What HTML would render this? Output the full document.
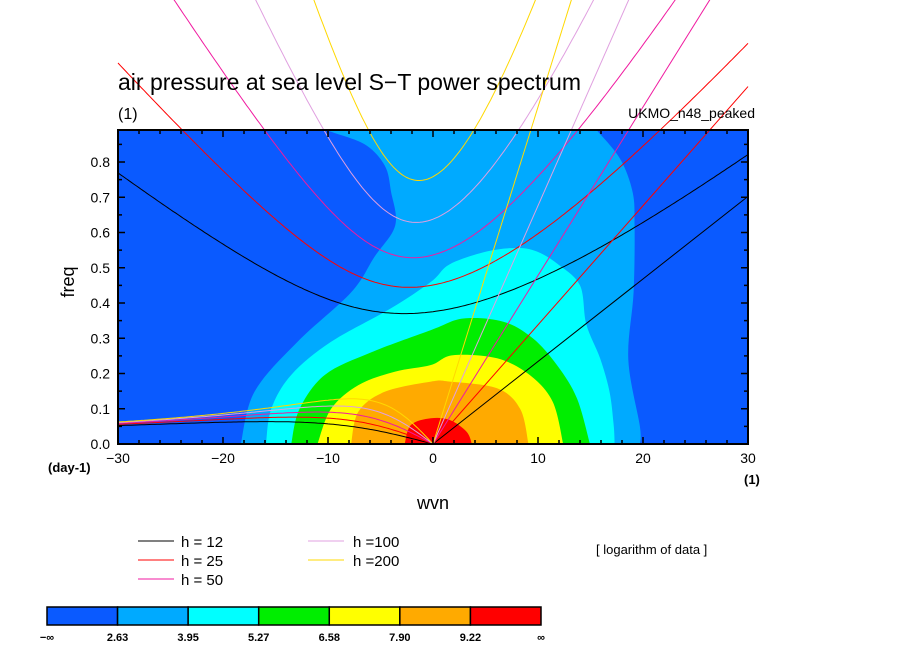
<!DOCTYPE html>
<html><head><meta charset="utf-8"><style>
body{margin:0;background:#fff;}
svg{display:block;font-family:"Liberation Sans",sans-serif;}
</style></head><body>
<svg id="chart" width="904" height="654" viewBox="0 0 904 654">
<defs><clipPath id="plotclip"><rect x="118" y="130" width="630" height="314"/></clipPath></defs>
<g id="fills" clip-path="url(#plotclip)"></g>
<g id="curves"></g>
<g id="axes"></g>
<text x="118" y="90" font-size="23">air pressure at sea level S−T power spectrum</text>
<text x="118" y="119" font-size="16">(1)</text>
<text x="755" y="118" font-size="14" text-anchor="end">UKMO_n48_peaked</text>
<text x="0" y="0" font-size="18" transform="translate(74,282) rotate(-90)" text-anchor="middle">freq</text>
<text x="433" y="509" font-size="18" text-anchor="middle">wvn</text>
<text x="48" y="472" font-size="13" font-weight="bold">(day-1)</text>
<text x="744" y="484" font-size="13" font-weight="bold">(1)</text>
<text x="596" y="554" font-size="13">[ logarithm of data ]</text>
<g id="legend"></g>
<g id="cbar"></g>
</svg>
<script>
// ---- data ----
const levelColors=["#0a5aff","#00aaff","#00ffff","#00ee00","#ffff00","#ffaa00","#ff0000"];
const levelLabels=["−∞","2.63","3.95","5.27","6.58","7.90","9.22","∞"];
const bound1=[[-18.3,0],[-17,0.148],[-12.9,0.29],[-7.8,0.43],[-5.6,0.53],[-3.6,0.62],[-4,0.716],[-4.6,0.79],[-6.5,0.85],[-9.7,0.886],[-10.5,0.9],[15.3,0.9],[15.6,0.89],[17.8,0.81],[19,0.716],[19.2,0.62],[19.1,0.43],[18.6,0.24],[19.7,0.05],[19.7,0]];
const bound2=[[-15.9,0],[-15.4,0.1],[-13.5,0.196],[-9.7,0.29],[-4,0.385],[-0.2,0.46],[1.6,0.51],[5.1,0.546],[8,0.556],[9.9,0.546],[11.9,0.51],[14,0.45],[14.6,0.34],[15.9,0.244],[16.8,0.15],[17.2,0.056],[17.3,0]];
const bound3=[[-13.5,0],[-12.7,0.1],[-10.3,0.196],[-5.9,0.26],[-0.2,0.323],[2.9,0.356],[6.7,0.347],[9.5,0.3],[11.8,0.224],[13.7,0.13],[14.95,0]];
const bound4=[[-11,0],[-9.7,0.1],[-7.1,0.167],[-3.65,0.205],[-0.2,0.224],[1.9,0.252],[6.1,0.243],[9.2,0.196],[11.4,0.12],[12.4,0]];
const bound5=[[-7.8,0],[-7.1,0.092],[-4.6,0.148],[-0.2,0.177],[1.6,0.177],[6.1,0.158],[8.3,0.1],[9.1,0]];
const bound6=[[-2.7,0],[-2.1,0.054],[-0.2,0.073],[1.6,0.068],[3.2,0.035],[3.7,0]];
const depths=[12,25,50,100,200];
const depthColors=["#000000","#ff0000","#f01aa0","#e0a0e0","#ffd800"];
const xTicks=[-30,-20,-10,0,10,20,30];
const yTicks=[0,0.1,0.2,0.3,0.4,0.5,0.6,0.7,0.8];
// ---- scales ----
const X0=118,X1=748,Y0=444,Y1=130,FMAX=0.8908;
const sx=w=>X0+(w+30)/60*(X1-X0);
const sy=f=>Y0-f/FMAX*(Y0-Y1);
const NS="http://www.w3.org/2000/svg";
function mk(tag,attrs,parent){const e=document.createElementNS(NS,tag);for(const k in attrs)e.setAttribute(k,attrs[k]);parent.appendChild(e);return e;}
function smoothPath(pts){
  const P=pts.map(p=>[sx(p[0]),sy(p[1])]);
  let d='M'+P[0][0].toFixed(1)+','+P[0][1].toFixed(1);
  for(let i=0;i<P.length-1;i++){
    const p0=P[Math.max(0,i-1)],p1=P[i],p2=P[i+1],p3=P[Math.min(P.length-1,i+2)];
    const c1=[p1[0]+(p2[0]-p0[0])/6,p1[1]+(p2[1]-p0[1])/6];
    const c2=[p2[0]-(p3[0]-p1[0])/6,p2[1]-(p3[1]-p1[1])/6];
    d+='C'+c1.map(v=>v.toFixed(1)).join(',')+' '+c2.map(v=>v.toFixed(1)).join(',')+' '+p2[0].toFixed(1)+','+p2[1].toFixed(1);
  }
  return d+'Z';
}
// fills
const fills=document.getElementById('fills');
const bg=mk('rect',{x:X0,y:Y1,width:X1-X0,height:Y0-Y1,fill:levelColors[0]},fills);


[bound1,bound2,bound3,bound4,bound5,bound6].forEach((b,i)=>{
  const p=mk('path',{d:smoothPath(b),fill:levelColors[i+1]},fills);
  
  
});
// dispersion curves
const curves=document.getElementById('curves');
const g=9.81,Om=7.292e-5,a=6.371e6,beta=2*Om/a,cpd=86400/(2*Math.PI);
function roots(s,h){const c=Math.sqrt(g*h),k=s/a;const A=c*c*k*k+3*beta*c,B=beta*k*c*c;
 const r=2*Math.sqrt(A/3);let arg=(3*B/(2*A))*Math.sqrt(3/A);arg=Math.max(-1,Math.min(1,arg));const th=Math.acos(arg)/3;
 return [r*Math.cos(th)*cpd,r*Math.cos(th-2*Math.PI/3)*cpd];}
depths.forEach((h,i)=>{
  const c=Math.sqrt(g*h);let ig=[],er=[];
  for(let s=-30;s<=30.001;s+=0.25){const r=roots(s,h);ig.push([s,r[0]]);if(s<=0)er.push([s,s<0?r[1]:0]);}
  const kel=[[0,0],[30,c*(30/a)*cpd]];
  [['ig',ig],['rossby',er],['kelvin',kel]].forEach(([n,pts])=>{
    const d='M'+pts.map(p=>sx(p[0]).toFixed(1)+','+sy(p[1]).toFixed(1)).join('L');
    const p=mk('path',{d:d,fill:'none',stroke:depthColors[i],'stroke-width':1},curves);
    
    
  });
});
// axes
const ax=document.getElementById('axes');
const frame=mk('rect',{x:X0,y:Y1,width:X1-X0,height:Y0-Y1,fill:'none',stroke:'#000','stroke-width':2},ax);


for(let w=-30;w<=30;w+=2){const L=(w%10===0)?7:4;
  mk('line',{x1:sx(w),x2:sx(w),y1:Y0,y2:Y0-L,stroke:'#000','stroke-width':1.5},ax);
  mk('line',{x1:sx(w),x2:sx(w),y1:Y1,y2:Y1+L,stroke:'#000','stroke-width':1.5},ax);}
for(let k=0;k<=17;k++){const f=k*0.05,L=(k%2===0)?7:4;
  mk('line',{x1:X0,x2:X0+L,y1:sy(f),y2:sy(f),stroke:'#000','stroke-width':1.5},ax);
  mk('line',{x1:X1,x2:X1-L,y1:sy(f),y2:sy(f),stroke:'#000','stroke-width':1.5},ax);}
xTicks.forEach(w=>{const t=mk('text',{x:sx(w),y:Y0+19,'font-size':14,'text-anchor':'middle'},ax);t.textContent=(w<0?'−':'')+Math.abs(w);
  
  });
yTicks.forEach(f=>{const t=mk('text',{x:X0-8,y:sy(f)+5,'font-size':14,'text-anchor':'end'},ax);t.textContent=f.toFixed(1);
  
  });
// legend
const lg=document.getElementById('legend');
depths.forEach((h,i)=>{const col=i<3?0:1,row=i<3?i:i-3;const lx=col?308:138,tx=col?353:181,y=541+row*19;
  const e=mk('g',{},lg);
  
  
  mk('line',{x1:lx,x2:lx+36,y1:y,y2:y,stroke:depthColors[i],'stroke-width':1},e);
  const t=mk('text',{x:tx,y:y+6,'font-size':15},e);t.textContent=h<100?'h = '+h:'h ='+h;});
// colorbar
const cb=document.getElementById('cbar');const cw=(541-47)/7;
levelColors.forEach((c,i)=>{const r=mk('rect',{x:47+i*cw,y:607,width:cw,height:18,fill:c,stroke:'#000','stroke-width':1.5},cb);
  
  });
levelLabels.forEach((l,i)=>{const t=mk('text',{x:47+i*cw,y:641,'font-size':11,'font-weight':'bold','text-anchor':'middle'},cb);t.textContent=l;
  
  });
</script>
</body></html>
